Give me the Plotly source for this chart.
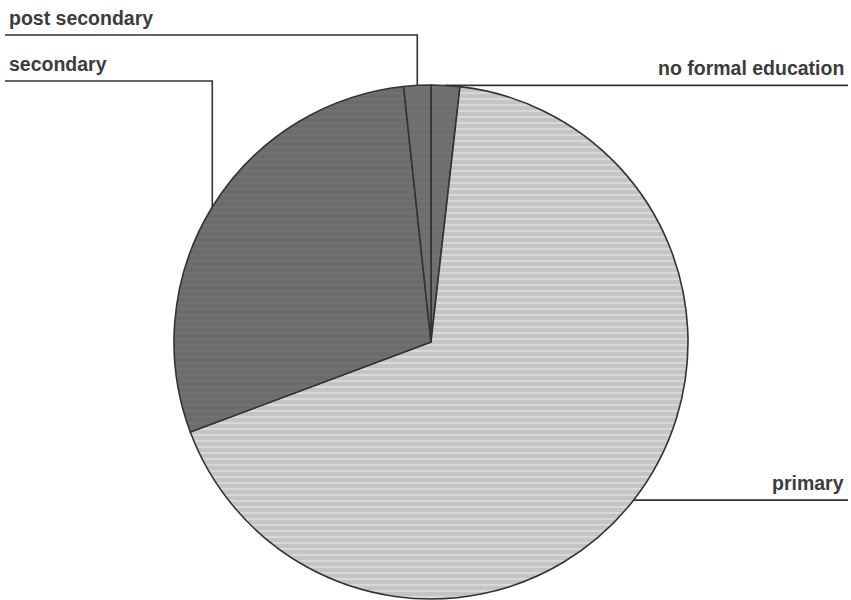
import math
import plotly.graph_objects as go

# Share of respondents by highest education level (percent)
categories = ["no formal education", "primary", "secondary", "post secondary"]
shares = [1.8, 67.5, 29.0, 1.7]
slice_colors = ["#6e6e6e", "#c4c4c4", "#6c6c6c", "#6e6e6e"]
stripe_colors = ["#727272", "#d8d8d8", "#717171", "#727272"]

W, H = 851, 600
CX, CY, R = 431, 342, 257          # pie centre and radius in pixels
LINE_COLOR = "#333333"
TEXT_COLOR = "#3c3c3c"

def px_x(x):
    return x / W

def px_y(y):
    return 1 - y / H

fig = go.Figure(go.Pie(
    labels=categories,
    values=shares,
    sort=False,
    direction="clockwise",
    rotation=0,
    textinfo="none",
    hoverinfo="label+percent",
    marker=dict(
        colors=slice_colors,
        line=dict(color=LINE_COLOR, width=1.6),
        pattern=dict(
            shape="-",
            bgcolor=slice_colors,
            fgcolor=stripe_colors,
            fillmode="replace",
            size=6,
            solidity=0.35,
        ),
    ),
    domain=dict(x=[px_x(CX - R), px_x(CX + R)], y=[px_y(CY + R), px_y(CY - R)]),
    showlegend=False,
))

# Edge point of every slice at its mid angle (clockwise from 12 o'clock)
total = sum(shares)
edge = {}
acc = 0.0
for name, v in zip(categories, shares):
    mid = (acc + v / 2) / total * 2 * math.pi
    edge[name] = (CX + R * math.sin(mid), CY - R * math.cos(mid))
    acc += v

shapes = []
annotations = []
line_style = dict(color=LINE_COLOR, width=1.6)

# Left-side labels: elbow leader going up from the slice, then left
left_rows = {"post secondary": 35, "secondary": 81}
for name, row_y in left_rows.items():
    ex, ey = edge[name]
    shapes.append(dict(type="path", xref="paper", yref="paper",
                       path=f"M {px_x(5)},{px_y(row_y)} L {px_x(ex)},{px_y(row_y)} L {px_x(ex)},{px_y(ey)}",
                       line=line_style))
    annotations.append(dict(x=px_x(7), y=px_y(row_y - 4), xref="paper", yref="paper",
                            text=f"<b>{name}</b>", showarrow=False,
                            xanchor="left", yanchor="bottom"))

# Right-side labels: straight leader from the slice edge to the right margin
for name in ["no formal education", "primary"]:
    ex, ey = edge[name]
    shapes.append(dict(type="line", xref="paper", yref="paper",
                       x0=px_x(ex), y0=px_y(ey), x1=px_x(848), y1=px_y(ey),
                       line=line_style))
    annotations.append(dict(x=px_x(846), y=px_y(ey - 4), xref="paper", yref="paper",
                            text=f"<b>{name}</b>", showarrow=False,
                            xanchor="right", yanchor="bottom"))

fig.update_layout(
    width=W, height=H,
    margin=dict(l=0, r=0, t=0, b=0),
    paper_bgcolor="white",
    plot_bgcolor="white",
    font=dict(family="Liberation Sans, Arial, sans-serif", size=19.5, color=TEXT_COLOR),
    shapes=shapes,
    annotations=annotations,
)

fig.write_html("out.html")
